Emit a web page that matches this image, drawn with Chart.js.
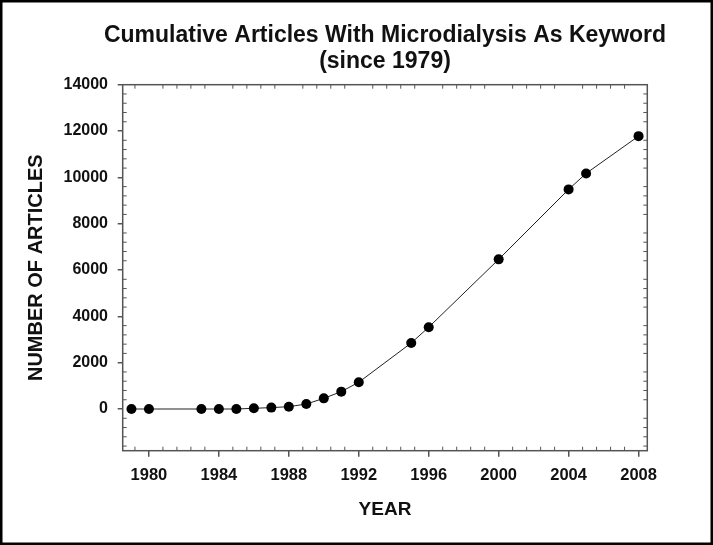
<!DOCTYPE html>
<html>
<head>
<meta charset="utf-8">
<title>Cumulative Articles With Microdialysis As Keyword</title>
<script src="https://cdn.jsdelivr.net/npm/chart.js@4.4.1/dist/chart.umd.min.js"></script>
<style>
  html, body { margin: 0; padding: 0; background: #fff; }
  #wrap { position: relative; width: 713px; height: 545px; }
</style>
</head>
<body>
<div id="wrap"><canvas id="chart" width="713" height="545"></canvas></div>
<script>
const years = [1979, 1980, 1983, 1984, 1985, 1986, 1987, 1988, 1989, 1990, 1991, 1992, 1995, 1996, 2000, 2004, 2005, 2008];
const articles = [0, 0, 0, 0, 0, 30, 60, 100, 215, 460, 750, 1155, 2850, 3530, 6460, 9480, 10170, 11780];
const yearTicks = [1980, 1984, 1988, 1992, 1996, 2000, 2004, 2008];
const countTicks = [0, 2000, 4000, 6000, 8000, 10000, 12000, 14000];
const titleLines = ['Cumulative Articles With Microdialysis As Keyword', '(since 1979)'];

const FONT = "'Liberation Sans', Arial, sans-serif";
const AXIS = '#555';
const TEXT = '#111';

// title centred over the plot (wider than the plot, so not the built-in title),
// box around the plot, small inward ticks, and the outer picture border
const frame = {
    id: 'frame',
    afterDraw(chart) {
        const { ctx, chartArea: a, scales: { x, y } } = chart;
        ctx.save();

        ctx.fillStyle = TEXT;
        ctx.font = 'bold 23px ' + FONT;
        ctx.textAlign = 'center';
        ctx.textBaseline = 'alphabetic';
        const cx = (a.left + a.right) / 2;
        titleLines.forEach((line, i) => ctx.fillText(line, cx, 42 + i * 26));

        ctx.strokeStyle = AXIS;
        ctx.lineWidth = 1.5;
        ctx.strokeRect(a.left, a.top, a.right - a.left, a.bottom - a.top);

        ctx.lineWidth = 1;
        ctx.beginPath();
        // 5 divisions between labelled years
        for (let i = 0; i < yearTicks.length + 1; i++) {
            const start = yearTicks[0] - 4 + i * 4;
            for (let k = 1; k < 5; k++) {
                const v = start + k * 0.8;
                if (v < x.min || v > x.max) continue;
                const px = x.getPixelForValue(v);
                ctx.moveTo(px, a.bottom);
                ctx.lineTo(px, a.bottom - 4);
                ctx.moveTo(px, a.top);
                ctx.lineTo(px, a.top + 4);
            }
        }
        // 5 divisions between labelled counts
        for (let i = 0; i < countTicks.length + 1; i++) {
            const start = countTicks[0] - 2000 + i * 2000;
            for (let k = 1; k < 5; k++) {
                const v = start + k * 400;
                if (v < y.min || v > y.max) continue;
                const py = y.getPixelForValue(v);
                ctx.moveTo(a.left, py);
                ctx.lineTo(a.left + 4, py);
                ctx.moveTo(a.right, py);
                ctx.lineTo(a.right - 4, py);
            }
        }
        ctx.stroke();

        ctx.strokeStyle = '#000';
        ctx.lineWidth = 2.5;
        ctx.strokeRect(1.25, 1.25, chart.width - 2.5, chart.height - 2.5);
        ctx.restore();
    }
};

new Chart(document.getElementById('chart'), {
    type: 'line',
    data: {
        datasets: [{
            data: years.map((yr, i) => ({ x: yr, y: articles[i] })),
            borderColor: '#222',
            borderWidth: 1,
            pointRadius: 5,
            pointBackgroundColor: '#000',
            pointBorderWidth: 0,
            tension: 0
        }]
    },
    options: {
        responsive: false,
        animation: false,
        layout: { padding: { top: 84.7, right: 65.7, bottom: 0, left: 0 } },
        plugins: {
            legend: { display: false },
            tooltip: { enabled: false },
            title: { display: false }
        },
        scales: {
            x: {
                type: 'linear',
                min: 1978.5,
                max: 2008.5,
                afterBuildTicks: s => { s.ticks = yearTicks.map(v => ({ value: v })); },
                afterFit: s => { s.height = 94.3; },
                ticks: {
                    color: TEXT,
                    font: { family: FONT, size: 16.5, weight: 'bold' },
                    padding: 9,
                    maxRotation: 0,
                    callback: v => String(v)
                },
                grid: { drawOnChartArea: false, drawTicks: true, tickLength: 6, color: AXIS, lineWidth: 1.5 },
                border: { display: false },
                title: {
                    display: true,
                    text: 'YEAR',
                    color: TEXT,
                    font: { family: FONT, size: 19, weight: 'bold' },
                    padding: { top: 0, bottom: 24 }
                }
            },
            y: {
                min: -1800,
                max: 14000,
                afterBuildTicks: s => { s.ticks = countTicks.map(v => ({ value: v })); },
                afterFit: s => { s.width = 122.7; },
                ticks: {
                    color: TEXT,
                    font: { family: FONT, size: 16, weight: 'bold' },
                    padding: 9.7,
                    callback: v => String(v)
                },
                grid: { drawOnChartArea: false, drawTicks: true, tickLength: 5, color: AXIS, lineWidth: 1.5 },
                border: { display: false },
                title: {
                    display: true,
                    text: 'NUMBER OF ARTICLES',
                    color: TEXT,
                    font: { family: FONT, size: 20, weight: 'bold' },
                    padding: { top: 24, bottom: 0 }
                }
            }
        }
    },
    plugins: [frame]
});
</script>
</body>
</html>
